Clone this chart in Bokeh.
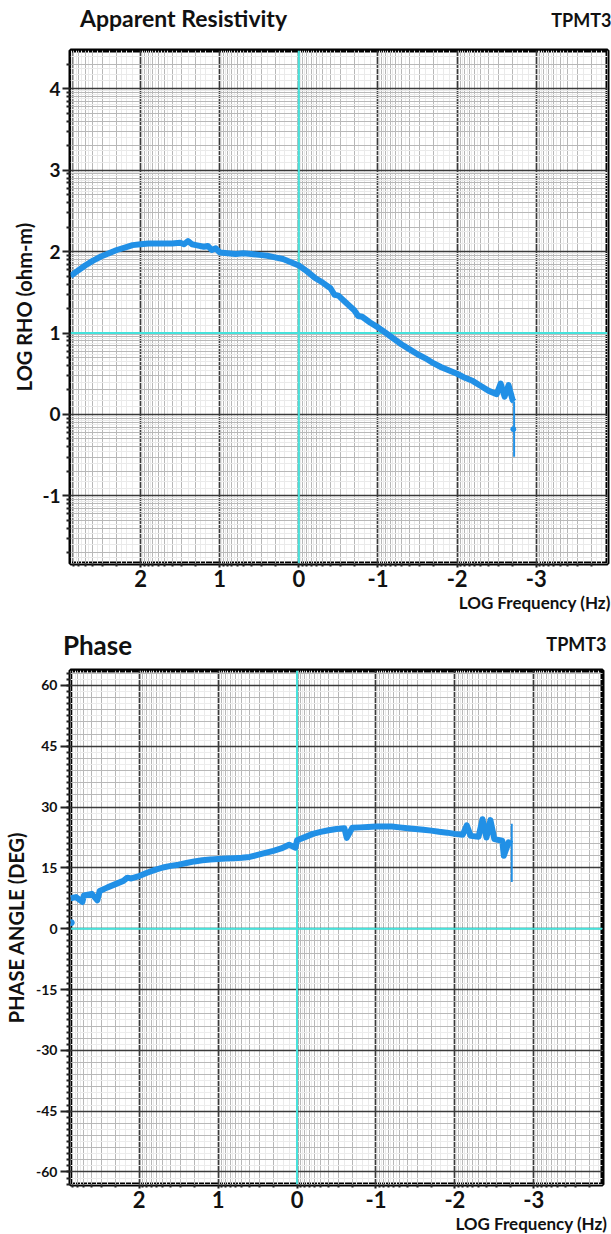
import math
from bokeh.plotting import figure
from bokeh.models import Range1d, FixedTicker, Grid, Span, LinearAxis
from bokeh.layouts import column
from bokeh.embed import file_html
from bokeh.resources import INLINE

# ---------------- data ----------------
freq_ticks = [2, 1, 0, -1, -2, -3]
rho_ticks = [-1, 0, 1, 2, 3, 4]
phase_ticks = [-60, -45, -30, -15, 0, 15, 30, 45, 60]

rho_logf = [2.885, 2.8, 2.7, 2.6, 2.5, 2.4, 2.3, 2.2, 2.1, 2.0, 1.9, 1.8, 1.7, 1.6,
            1.5, 1.45, 1.4, 1.35, 1.3, 1.2, 1.15, 1.1, 1.05, 1.0, 0.9, 0.8, 0.7,
            0.6, 0.5, 0.4, 0.3, 0.2, 0.1, 0.0, -0.1, -0.2, -0.3, -0.4, -0.45,
            -0.5, -0.6, -0.7, -0.75, -0.8, -0.9, -1.0, -1.1, -1.2, -1.3, -1.4,
            -1.5, -1.6, -1.7, -1.8, -1.9, -2.0, -2.1, -2.2, -2.3, -2.4, -2.5,
            -2.55, -2.6, -2.65, -2.7, -2.72]
rho_log = [1.70, 1.76, 1.83, 1.89, 1.94, 1.98, 2.02, 2.05, 2.08, 2.09, 2.10, 2.10,
           2.10, 2.10, 2.11, 2.09, 2.13, 2.09, 2.08, 2.06, 2.07, 2.02, 2.04, 1.99,
           1.98, 1.97, 1.98, 1.97, 1.96, 1.95, 1.93, 1.91, 1.87, 1.83, 1.76, 1.68,
           1.62, 1.55, 1.47, 1.46, 1.37, 1.28, 1.21, 1.20, 1.13, 1.07, 1.00, 0.93,
           0.86, 0.80, 0.74, 0.69, 0.63, 0.58, 0.54, 0.50, 0.45, 0.41, 0.35, 0.29,
           0.25, 0.38, 0.22, 0.36, 0.18, 0.16]
rho_tail_logf = [-2.72, -2.72]
rho_tail = [0.16, -0.52]
rho_dot_logf = [-2.71]
rho_dot = [-0.18]

ph_logf = [2.87, 2.8, 2.72, 2.7, 2.6, 2.53, 2.5, 2.4, 2.3, 2.2, 2.15, 2.1, 2.0, 1.9,
           1.8, 1.7, 1.6, 1.5, 1.4, 1.3, 1.2, 1.1, 1.0, 0.9, 0.8, 0.7, 0.6, 0.5,
           0.4, 0.3, 0.2, 0.1, 0.02, 0.0, -0.1, -0.2, -0.3, -0.4, -0.5, -0.6,
           -0.63, -0.7, -0.8, -0.9, -1.0, -1.1, -1.2, -1.3, -1.4, -1.5, -1.6,
           -1.7, -1.8, -1.9, -2.0, -2.1, -2.15, -2.2, -2.3, -2.35, -2.4, -2.45,
           -2.5, -2.6, -2.62, -2.68, -2.72]
ph_deg = [7.5, 7.8, 6.6, 8.2, 8.6, 7.0, 9.3, 10.2, 11.0, 11.8, 12.6, 12.4, 13.0,
          13.8, 14.5, 15.1, 15.5, 15.8, 16.2, 16.6, 16.9, 17.1, 17.2, 17.3, 17.4,
          17.5, 17.7, 18.2, 18.7, 19.2, 19.8, 20.7, 20.0, 21.8, 22.6, 23.4, 23.9,
          24.3, 24.6, 24.8, 22.4, 24.9, 25.0, 25.1, 25.2, 25.2, 25.2, 25.0, 24.8,
          24.6, 24.4, 24.2, 23.9, 23.7, 23.4, 23.2, 25.5, 22.9, 22.7, 27.0, 22.5,
          26.8, 22.1, 21.7, 18.0, 21.3, 20.9]
ph_tail_logf = [-2.72, -2.72]
ph_tail = [25.9, 11.5]
ph_dot_logf = [2.86]
ph_dot = [1.5]

# ---------------- styling helpers ----------------
FONT = "Lato"
BLUE = "#2190e6"
CYAN = "#45e3dc"
TEXT = "#111111"


def log_positions(lo, hi, ks):
    out = []
    for n in range(-5, 6):
        for k in ks:
            v = n + math.log10(k)
            if lo <= v <= hi:
                out.append(round(v, 5))
    return out


def lin_positions(lo, hi, step):
    out = []
    v = lo
    while v <= hi + 1e-9:
        out.append(round(v, 5))
        v += step
    return out


FINE_K = [1.25, 1.5, 1.75, 2.5, 3.5, 4.5, 5.5, 6.5, 7.5, 8.5, 9.5]
MINOR_K = [2, 3, 4, 5, 6, 7, 8, 9]
x_fine = log_positions(-4, 3, FINE_K)
x_minor = log_positions(-4, 3, MINOR_K)


def hyphen_labels(ticks):
    return {t: str(t) for t in ticks}


def add_grid(p, dim, ticks, color, width):
    g = Grid(dimension=dim, ticker=FixedTicker(ticks=ticks),
             grid_line_color=color, grid_line_width=width, level="underlay")
    p.add_layout(g, "center")


def text_axis(pos, text, size, standoff):
    """An axis without line or ticks that carries one text at one position."""
    return LinearAxis(ticker=FixedTicker(ticks=[pos], minor_ticks=[]),
                      major_label_overrides={pos: text},
                      axis_line_color=None, major_tick_line_color=None,
                      minor_tick_line_color=None,
                      major_tick_in=0, major_tick_out=0,
                      minor_tick_in=0, minor_tick_out=0,
                      major_label_text_font=FONT,
                      major_label_text_font_style="bold",
                      major_label_text_font_size=size,
                      major_label_text_color=TEXT,
                      major_label_standoff=standoff)


def base_figure(frame_w, frame_h, left, top, bottom, x_range, y_range):
    p = figure(frame_width=frame_w, frame_height=frame_h,
               min_border_left=left, min_border_right=611 - left - frame_w,
               min_border_top=top, min_border_bottom=bottom,
               x_range=Range1d(*x_range), y_range=Range1d(*y_range),
               output_backend="svg", toolbar_location=None, title=None)
    p.grid.visible = False
    p.outline_line_color = "black"
    p.outline_line_width = 4
    p.background_fill_color = "white"
    p.border_fill_color = "white"
    p.axis.axis_line_color = None
    p.axis.major_tick_line_color = "#222222"
    p.axis.minor_tick_line_color = "#222222"
    p.axis.major_tick_line_width = 2
    p.axis.minor_tick_line_width = 2
    p.axis.major_label_text_font = FONT
    p.axis.major_label_text_font_style = "bold"
    p.axis.major_label_text_color = TEXT
    p.axis.axis_label_text_font = FONT
    p.axis.axis_label_text_font_style = "bold"
    p.axis.axis_label_text_color = TEXT
    xa = p.xaxis[0]
    xa.ticker = FixedTicker(ticks=freq_ticks, minor_ticks=x_minor)
    xa.major_label_overrides = hyphen_labels(freq_ticks)
    xa.major_tick_in = 0
    xa.major_tick_out = 4
    xa.minor_tick_in = 0
    xa.minor_tick_out = 3
    xa.major_label_text_font_size = "22px"
    xa.major_label_standoff = 2
    add_grid(p, 0, x_fine, "#eaeaea", 1)
    add_grid(p, 0, x_minor, "#b8b8b8", 1)
    add_grid(p, 0, freq_ticks, "#3a3a3a", 1.7)
    return p


# ---------------- top: apparent resistivity ----------------
p1 = base_figure(537, 513, 65, 49, 62, (2.885, -3.9), (-1.83, 4.47))
y_fine = log_positions(-2, 5, FINE_K)
y_minor = log_positions(-2, 5, MINOR_K)
add_grid(p1, 1, y_fine, "#eaeaea", 1)
add_grid(p1, 1, y_minor, "#b8b8b8", 1)
add_grid(p1, 1, rho_ticks, "#3a3a3a", 1.7)
ya = p1.yaxis[0]
ya.ticker = FixedTicker(ticks=rho_ticks, minor_ticks=y_minor)
ya.major_label_overrides = hyphen_labels(rho_ticks)
ya.major_tick_in = 0
ya.major_tick_out = 8
ya.minor_tick_in = 0
ya.minor_tick_out = 4
ya.major_label_text_font_size = "19px"
ya.major_label_standoff = 2
ya.axis_label = "LOG RHO (ohm-m)"
ya.axis_label_text_font_size = "20px"
ya.axis_label_standoff = 3

p1.add_layout(Span(location=0, dimension="height", line_color=CYAN,
                   line_width=2, level="underlay"))
p1.add_layout(Span(location=1, dimension="width", line_color=CYAN,
                   line_width=2, level="underlay"))

p1.line(rho_tail_logf, rho_tail, line_color=BLUE, line_width=2)
p1.line(rho_logf, rho_log, line_color=BLUE, line_width=6, line_join="round")
p1.scatter(rho_dot_logf, rho_dot, size=5, color=BLUE)

# header texts: station name (inner row) and title (outer row pulled into same row)
p1.add_layout(text_axis(-3.57, "TPMT3", "18px", 20), "above")
p1.add_layout(text_axis(1.457, "Apparent Resistivity", "23px", -26), "above")
# x axis title under the tick labels, right side
p1.add_layout(text_axis(-3.0, "LOG Frequency (Hz)", "17px", 2), "below")

# ---------------- bottom: phase ----------------
p2 = base_figure(532, 514, 70, 39, 56, (2.87, -3.87), (-63.1, 63.7))
ph_fine = lin_positions(-63, 63, 1.5)
ph_minor = lin_positions(-63, 63, 3)
add_grid(p2, 1, ph_fine, "#ececec", 1)
add_grid(p2, 1, ph_minor, "#b8b8b8", 1)
add_grid(p2, 1, phase_ticks, "#3a3a3a", 1.7)
yb = p2.yaxis[0]
yb.ticker = FixedTicker(ticks=phase_ticks, minor_ticks=ph_fine)
yb.major_label_overrides = hyphen_labels(phase_ticks)
yb.major_tick_in = 0
yb.major_tick_out = 10
yb.minor_tick_in = 0
yb.minor_tick_out = 4
yb.major_label_text_font_size = "14px"
yb.major_label_standoff = 3
yb.axis_label = "PHASE ANGLE (DEG)"
yb.axis_label_text_font_size = "20px"
yb.axis_label_standoff = 5

p2.add_layout(Span(location=0, dimension="height", line_color=CYAN,
                   line_width=2, level="underlay"))
p2.add_layout(Span(location=0, dimension="width", line_color=CYAN,
                   line_width=2, level="underlay"))

p2.line(ph_tail_logf, ph_tail, line_color=BLUE, line_width=2)
p2.line(ph_logf, ph_deg, line_color=BLUE, line_width=6, line_join="round")
p2.scatter(ph_dot_logf, ph_dot, size=6, color=BLUE)

p2.add_layout(text_axis(-3.54, "TPMT3", "18px", 16), "above")
p2.add_layout(text_axis(2.528, "Phase", "26px", -31), "above")
p2.add_layout(text_axis(-2.97, "LOG Frequency (Hz)", "17px", 2), "below")

layout = column(p1, p2, spacing=0)
open("out.html", "w").write(file_html(layout, INLINE))
